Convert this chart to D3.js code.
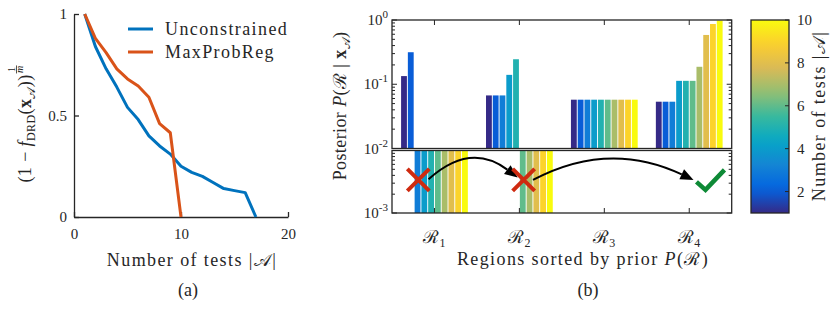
<!DOCTYPE html>
<html>
<head>
<meta charset="utf-8">
<script src="https://cdn.jsdelivr.net/npm/d3@7"></script>
<style>
body { margin: 0; background: #fff; }
svg { font-family: "Liberation Serif", "DejaVu Serif", serif; }
</style>
</head>
<body>
<div id="chart"></div>
<script>
// (a) ratio vs number of tests
const tests = d3.range(1, 18)
const unconstrained = [1.0, 0.84, 0.73, 0.64, 0.54, 0.48, 0.40, 0.35, 0.31, 0.25, 0.22, 0.20, 0.17, 0.14, 0.13, 0.12, 0]
const maxProbReg = [1.0, 0.88, 0.81, 0.73, 0.68, 0.645, 0.59, 0.46, 0.415, 0]
const leftXTicks = [0, 10, 20]
const leftYTicks = [0, 0.5, 1]

// (b) posterior per region, one bar per number of tests (0 = drawn in the lower box)
const regions = [1, 2, 3, 4]
const numTests = d3.range(1, 11)
const posteriorR1 = [0.134, 0.315, 0, 0, 0, 0, 0, 0, 0, 0]
const posteriorR2 = [0.067, 0.067, 0.067, 0.140, 0.245, 0, 0, 0, 0, 0]
const posteriorR3 = [0.0575, 0.0575, 0.0575, 0.0575, 0.0575, 0.0575, 0.0575, 0.0575, 0.0575, 0.0575]
const posteriorR4 = [0.0535, 0.0535, 0.0535, 0.113, 0.113, 0.113, 0.187, 0.585, 0.867, 0.98]
const posterior = [posteriorR1, posteriorR2, posteriorR3, posteriorR4]
const cbTicks = [2, 4, 6, 8, 10]
const parulaStops = ['#352a87', '#0363e1', '#1485d4', '#06a7c6', '#38b99e', '#92bf73', '#d9ba56', '#fcce2e', '#f9fb0e']

// annotations, in (region position, log10 posterior)
const crosses = [[0.81, -2.47], [2.05, -2.47]]
const checks = [[4.25, -2.47]]
const arrows = [
    {from: [0.93, -2.46], ctrl: [1.42, -1.86], to: [1.98, -2.43]},
    {from: [2.16, -2.47], ctrl: [3.05, -1.83], to: [4.05, -2.47]}
]

const ink = '#262626'
const spacing = 1.4   // widen Liberation Serif towards the LaTeX look
const svg = d3.select('#chart').append('svg').attr('width', 830).attr('height', 311)

const styleAxis = g => {
    g.attr('font-family', null).attr('font-size', 15)
    g.selectAll('.domain, .tick line').attr('stroke', ink).attr('stroke-width', 1.3)
    g.selectAll('text').attr('fill', ink)
}

// ---------- (a) ----------
const xA = d3.scaleLinear().domain([0, 20]).range([74, 288])
const yA = d3.scaleLinear().domain([0, 1]).range([217, 14])

svg.append('g').attr('transform', `translate(0,${yA(0)})`)
    .call(d3.axisBottom(xA).tickValues(leftXTicks).tickSize(-5).tickSizeOuter(0).tickPadding(11))
    .call(styleAxis)
svg.append('g').attr('transform', `translate(${xA(0)},0)`)
    .call(d3.axisLeft(yA).tickValues(leftYTicks).tickSize(-5).tickSizeOuter(0).tickPadding(7).tickFormat(d3.format('')))
    .call(styleAxis)

const series = [
    {name: 'Unconstrained', values: unconstrained, color: '#0072BD'},
    {name: 'MaxProbReg', values: maxProbReg, color: '#D95319'}
]
const line = d3.line().x((d, i) => xA(tests[i])).y(d => yA(d))
svg.selectAll('.series').data(series).enter().append('path')
    .attr('d', d => line(d.values))
    .attr('fill', 'none')
    .attr('stroke', d => d.color)
    .attr('stroke-width', 3)
    .attr('stroke-linejoin', 'round')

const legend = svg.selectAll('.legend').data(series).enter().append('g')
    .attr('transform', (d, i) => `translate(128,${29 + i * 23})`)
legend.append('line').attr('x1', 0).attr('x2', 25)
    .attr('stroke', d => d.color).attr('stroke-width', 3)
legend.append('text').attr('x', 37).attr('dy', '0.33em').attr('letter-spacing', spacing)
    .attr('font-size', 18).attr('fill', ink).text(d => d.name)

// rotated y label with stacked 1/m exponent
const yLabA = svg.append('g').attr('transform', 'translate(25,124) rotate(-90)')
const tA = yLabA.append('text').attr('font-size', 18).attr('fill', ink).attr('y', 6).attr('letter-spacing', 0.4)
tA.append('tspan').text('(1 − ')
tA.append('tspan').attr('font-style', 'italic').text('f')
tA.append('tspan').attr('font-size', 12).attr('dy', 4).text('DRD')
tA.append('tspan').attr('dy', -4).text('(')
tA.append('tspan').attr('font-weight', 'bold').text('x')
tA.append('tspan').attr('font-size', 12).attr('dy', 4).text('𝒜')
tA.append('tspan').attr('dy', -4).text('))')
const lenA = tA.node().getComputedTextLength()
const startA = -(lenA + 9) / 2
tA.attr('x', startA)
const fx = startA + lenA + 5
yLabA.append('text').attr('x', fx).attr('y', -10).attr('font-size', 10).attr('text-anchor', 'middle').attr('fill', ink).text('1')
yLabA.append('line').attr('x1', fx - 4).attr('x2', fx + 4).attr('y1', -8.5).attr('y2', -8.5).attr('stroke', ink).attr('stroke-width', 0.8)
yLabA.append('text').attr('x', fx).attr('y', -2).attr('font-size', 10).attr('font-style', 'italic').attr('text-anchor', 'middle').attr('fill', ink).text('m')

svg.append('text').attr('x', 192).attr('y', 266).attr('text-anchor', 'middle').attr('font-size', 18)
    .attr('letter-spacing', spacing).attr('fill', ink).text('Number of tests |𝒜|')
svg.append('text').attr('x', 188).attr('y', 296).attr('text-anchor', 'middle').attr('font-size', 18).attr('fill', ink).text('(a)')

// ---------- (b) ----------
const xB = d3.scaleLinear().domain([0.5, 4.5]).range([392, 731.7])
const yTop = d3.scaleLog().domain([1e-2, 1]).range([148.5, 20])
const yLow = d3.scaleLog().domain([1e-3, 1e-2]).range([213, 150.5])
const inner = d3.scaleBand().domain(numTests).range([-0.393, 0.393]).paddingInner(0.14)
const parula = d3.piecewise(d3.interpolateRgb, parulaStops)
const color = n => parula((n - 1) / 9)

const barW = xB(inner.bandwidth()) - xB(0)
const bars = []
posterior.forEach((vals, ri) => vals.forEach((v, j) => bars.push({region: regions[ri], n: numTests[j], v})))

const gB = svg.append('g')
gB.selectAll('rect.bar').data(bars).enter().append('rect')
    .attr('x', d => xB(d.region + inner(d.n)))
    .attr('width', barW)
    .attr('y', d => d.v > 0 ? yTop(d.v) : yLow(1e-2))
    .attr('height', d => d.v > 0 ? yTop(1e-2) - yTop(d.v) : yLow(1e-3) - yLow(1e-2))
    .attr('fill', d => color(d.n))

// boxes with log ticks on both sides
const drawBox = (scale, xTickSide) => {
    const [y0, y1] = scale.range()
    const g = gB.append('g')
    g.append('rect').attr('x', xB(0.5)).attr('y', y1).attr('width', xB(4.5) - xB(0.5)).attr('height', y0 - y1)
        .attr('fill', 'none').attr('stroke', ink).attr('stroke-width', 1.3)
    scale.ticks().forEach(t => {
        const major = Math.abs(Math.log10(t) - Math.round(Math.log10(t))) < 1e-6
        const len = major ? 5 : 3
        g.append('line').attr('x1', xB(0.5)).attr('x2', xB(0.5) + len).attr('y1', scale(t)).attr('y2', scale(t))
            .attr('stroke', ink).attr('stroke-width', 1)
        g.append('line').attr('x1', xB(4.5)).attr('x2', xB(4.5) - len).attr('y1', scale(t)).attr('y2', scale(t))
            .attr('stroke', ink).attr('stroke-width', 1)
    })
    const yEdge = xTickSide === 'top' ? y1 : y0
    const dir = xTickSide === 'top' ? 1 : -1
    regions.forEach(r => {
        g.append('line').attr('x1', xB(r)).attr('x2', xB(r)).attr('y1', yEdge).attr('y2', yEdge + dir * 5)
            .attr('stroke', ink).attr('stroke-width', 1)
    })
}
drawBox(yTop, 'top')
drawBox(yLow, 'bottom')

// y tick labels 10^k
const expLabels = [{v: 1, s: yTop}, {v: 0.1, s: yTop}, {v: 0.01, s: yTop}, {v: 0.001, s: yLow}]
expLabels.forEach(d => {
    const k = Math.round(Math.log10(d.v))
    const t = gB.append('text').attr('x', 388).attr('y', d.s(d.v) + 5).attr('text-anchor', 'end')
        .attr('font-size', 15).attr('fill', ink)
    t.append('tspan').text('10')
    t.append('tspan').attr('font-size', 11).attr('dy', -7).text(k === 0 ? '0' : '-' + Math.abs(k))
})

// region labels
regions.forEach(r => {
    const t = gB.append('text').attr('x', xB(r)).attr('y', 243).attr('text-anchor', 'middle').attr('font-size', 18).attr('fill', ink)
    t.append('tspan').text('ℛ')
    t.append('tspan').attr('font-size', 12).attr('dy', 4).text(r)
})

const xLabB = svg.append('text').attr('x', 583).attr('y', 265).attr('text-anchor', 'middle').attr('font-size', 18)
    .attr('letter-spacing', spacing).attr('fill', ink)
xLabB.append('tspan').text('Regions sorted by prior ')
xLabB.append('tspan').attr('font-style', 'italic').text('P')
xLabB.append('tspan').text('(ℛ)')
svg.append('text').attr('x', 588).attr('y', 296).attr('text-anchor', 'middle').attr('font-size', 18).attr('fill', ink).text('(b)')

const yLabB = svg.append('g').attr('transform', 'translate(340,106) rotate(-90)')
const tB = yLabB.append('text').attr('font-size', 18).attr('fill', ink).attr('y', 6).attr('text-anchor', 'middle')
    .attr('letter-spacing', 0.4)
tB.append('tspan').text('Posterior ')
tB.append('tspan').attr('font-style', 'italic').text('P')
tB.append('tspan').text('(ℛ | ')
tB.append('tspan').attr('font-weight', 'bold').text('x')
tB.append('tspan').attr('font-size', 12).attr('dy', 4).text('𝒜')
tB.append('tspan').attr('dy', -4).text(')')

// annotations
const px = d => [xB(d[0]), yLow(Math.pow(10, d[1]))]
arrows.forEach(a => {
    const [sx, sy] = px(a.from), [cx, cy] = px(a.ctrl), [ex, ey] = px(a.to)
    const ang = Math.atan2(ey - cy, ex - cx)
    const hl = 13, hw = 5.5
    const bx = ex - hl * Math.cos(ang), by = ey - hl * Math.sin(ang)
    const p = d3.path()
    p.moveTo(sx, sy)
    p.quadraticCurveTo(cx, cy, bx, by)
    gB.append('path').attr('d', p.toString()).attr('fill', 'none').attr('stroke', '#000').attr('stroke-width', 2)
    gB.append('path')
        .attr('d', `M${ex},${ey}L${bx - hw * Math.sin(ang)},${by + hw * Math.cos(ang)}L${bx + hw * Math.sin(ang)},${by - hw * Math.cos(ang)}Z`)
        .attr('fill', '#000')
})
crosses.forEach(c => {
    const [x, y] = px(c)
    gB.append('path').attr('d', `M${x - 11},${y - 11}L${x + 11},${y + 11}M${x - 11},${y + 11}L${x + 11},${y - 11}`)
        .attr('stroke', '#cf2a10').attr('stroke-width', 4)
})
checks.forEach(c => {
    const [x, y] = px(c)
    gB.append('path').attr('d', `M${x - 14},${y + 2}L${x - 5},${y + 10}L${x + 14},${y - 10}`)
        .attr('fill', 'none').attr('stroke', '#0e8a36').attr('stroke-width', 4.5)
})

// ---------- colorbar ----------
const cb = d3.scaleLinear().domain([1, 10]).range([213, 20])
const defs = svg.append('defs')
const grad = defs.append('linearGradient').attr('id', 'parula').attr('x1', 0).attr('x2', 0).attr('y1', 1).attr('y2', 0)
d3.range(0, 1.0001, 0.05).forEach(t => grad.append('stop').attr('offset', t).attr('stop-color', parula(t)))
svg.append('rect').attr('x', 751).attr('y', cb(10)).attr('width', 38).attr('height', cb(1) - cb(10))
    .attr('fill', 'url(#parula)').attr('stroke', ink).attr('stroke-width', 1.3)
cbTicks.forEach(t => {
    svg.append('line').attr('x1', 789).attr('x2', 785).attr('y1', cb(t)).attr('y2', cb(t)).attr('stroke', ink)
    svg.append('text').attr('x', 797).attr('y', cb(t) + 5).attr('font-size', 15).attr('fill', ink).text(t)
})
svg.append('text').attr('transform', 'translate(825,116) rotate(-90)').attr('text-anchor', 'middle')
    .attr('font-size', 18).attr('letter-spacing', spacing).attr('fill', ink).text('Number of tests |𝒜|')
</script>
</body>
</html>
